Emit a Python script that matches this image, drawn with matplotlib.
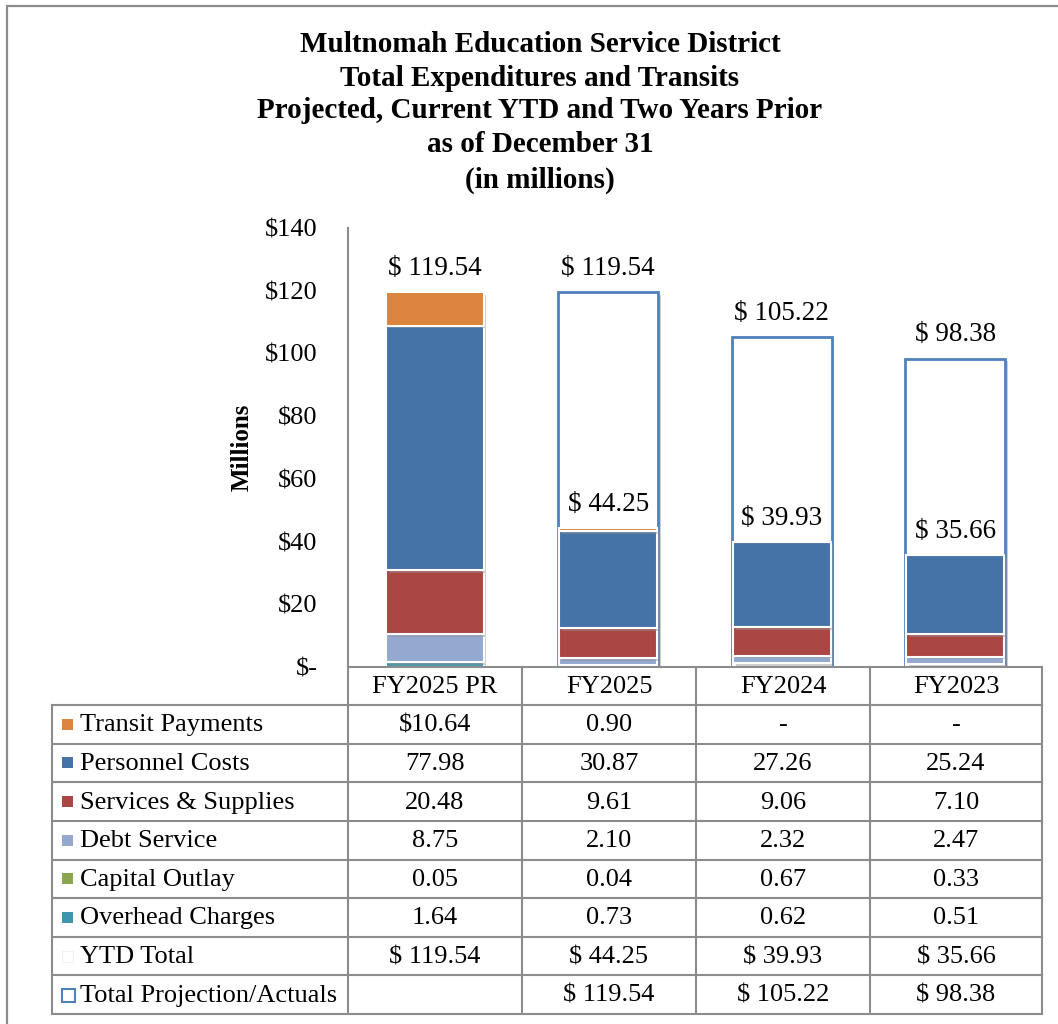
import matplotlib
matplotlib.use("Agg")
import matplotlib.pyplot as plt
from matplotlib.patches import Rectangle
from matplotlib.lines import Line2D
import matplotlib.patheffects as pe

# ---------------- data ----------------
categories = ["FY2025 PR", "FY2025", "FY2024", "FY2023"]
series_names = ["Transit Payments", "Personnel Costs", "Services & Supplies",
                "Debt Service", "Capital Outlay", "Overhead Charges"]
transit = [10.64, 0.90, 0.0, 0.0]
personnel = [77.98, 30.87, 27.26, 25.24]
services = [20.48, 9.61, 9.06, 7.10]
debt = [8.75, 2.10, 2.32, 2.47]
capital = [0.05, 0.04, 0.67, 0.33]
overhead = [1.64, 0.73, 0.62, 0.51]
ytd_total = [119.54, 44.25, 39.93, 35.66]
total_proj = [None, 119.54, 105.22, 98.38]
yticks = [0, 20, 40, 60, 80, 100, 120, 140]
ytick_labels = ["$-", "$20", "$40", "$60", "$80", "$100", "$120", "$140"]
title_lines = ["Multnomah Education Service District",
               "Total Expenditures and Transits",
               "Projected, Current YTD and Two Years Prior",
               "as of December 31",
               "(in millions)"]

colors = {
    "Transit Payments": "#DB843D",
    "Personnel Costs": "#4572A7",
    "Services & Supplies": "#AA4643",
    "Debt Service": "#93A9CF",
    "Capital Outlay": "#89A54E",
    "Overhead Charges": "#3D96AE",
}
outline_color = "#4F81BD"
grid_color = "#8C8C8C"

W, H = 1058, 1024
plt.rcParams["font.family"] = ["Liberation Serif", "DejaVu Serif"]
fig = plt.figure(figsize=(W / 100, H / 100), dpi=100)

def fx(x):
    return x / W

def fy(y):
    return 1 - y / H

# outer chart border
fig.add_artist(Rectangle((fx(7), fy(1030)), fx(1070) - fx(7), fy(6) - fy(1030),
                         transform=fig.transFigure, fill=False,
                         edgecolor="#8C8C8C", lw=1.6))

# axes
ax_l, ax_r, ax_t, ax_b = 348, 1042, 228, 667
ax = fig.add_axes([fx(ax_l), fy(ax_b), fx(ax_r) - fx(ax_l), fy(ax_t) - fy(ax_b)])
ax.set_xlim(-0.5, 3.5)
ax.set_ylim(0, 140)
for s in ["top", "right", "bottom"]:
    ax.spines[s].set_visible(False)
ax.spines["left"].set_color(grid_color)
ax.spines["left"].set_linewidth(1.5)
ax.set_xticks([])
ax.set_yticks(yticks)
ax.set_yticklabels(ytick_labels)
ax.tick_params(axis="y", length=0, pad=22, labelsize=19)
ax.set_ylabel("Millions", fontsize=18, fontweight="bold", labelpad=8)

x = list(range(len(categories)))
bw = 0.575
shadow = [pe.SimplePatchShadow(offset=(2, -2), shadow_rgbFace="#909090", alpha=0.45), pe.Normal()]

# total projection outline bars
for i, t in enumerate(total_proj):
    if t is None:
        continue
    ax.bar(x[i], t, width=bw, facecolor="white", edgecolor=outline_color,
           linewidth=2, zorder=2, path_effects=shadow)

stack = [("Overhead Charges", overhead), ("Capital Outlay", capital),
         ("Debt Service", debt), ("Services & Supplies", services),
         ("Personnel Costs", personnel), ("Transit Payments", transit)]
bottom = [0.0] * len(categories)
for name, vals in stack:
    ax.bar(x, vals, width=bw - 0.012, bottom=bottom, color=colors[name],
           edgecolor="white", linewidth=1.5, zorder=3,
           path_effects=shadow)
    bottom = [b + v for b, v in zip(bottom, vals)]

for i in range(len(categories)):
    ax.annotate(f"$ {ytd_total[i]:.2f}", (x[i], ytd_total[i]), xytext=(0, 17),
                textcoords="offset points", ha="center", va="center",
                fontsize=19.5, zorder=5)
    if total_proj[i] is not None:
        ax.annotate(f"$ {total_proj[i]:.2f}", (x[i], total_proj[i]), xytext=(0, 17),
                    textcoords="offset points", ha="center", va="center",
                    fontsize=19.5, zorder=5)

# title
title_y = [45, 78, 111, 145, 180]
for line, yy in zip(title_lines, title_y):
    fig.text(fx(540), fy(yy), line, ha="center", va="center",
             fontsize=21, fontweight="bold")

# ---------------- data table ----------------
col_edges = [348, 522, 696, 870, 1042]
leg_l = 52
head_t, head_b = 667, 705
row_h = (1014 - 705) / 8
row_edges = [head_b + k * row_h for k in range(9)]

def hline(x0, x1, y):
    fig.add_artist(Line2D([fx(x0), fx(x1)], [fy(y), fy(y)], transform=fig.transFigure,
                          color=grid_color, lw=1.5))

def vline(xx, y0, y1):
    fig.add_artist(Line2D([fx(xx), fx(xx)], [fy(y0), fy(y1)], transform=fig.transFigure,
                          color=grid_color, lw=1.5))

hline(col_edges[0], col_edges[-1], head_t)
for yy in row_edges:
    hline(leg_l, col_edges[-1], yy)
for xx in col_edges:
    vline(xx, head_t, row_edges[-1])
vline(leg_l, row_edges[0], row_edges[-1])

for j, c in enumerate(categories):
    cx = (col_edges[j] + col_edges[j + 1]) / 2
    fig.text(fx(cx), fy((head_t + head_b) / 2 + 1), c, ha="center", va="center", fontsize=19)

def fmt_plain(v):
    return "-" if v == 0 else f"{v:.2f}"

row_names = series_names + ["YTD Total", "Total Projection/Actuals"]
row_vals = [
    ["$" + f"{transit[0]:.2f}"] + [fmt_plain(v) for v in transit[1:]],
    [fmt_plain(v) for v in personnel],
    [fmt_plain(v) for v in services],
    [fmt_plain(v) for v in debt],
    [fmt_plain(v) for v in capital],
    [fmt_plain(v) for v in overhead],
    [f"$ {v:.2f}" for v in ytd_total],
    ["" if v is None else f"$ {v:.2f}" for v in total_proj],
]

for r, name in enumerate(row_names):
    cy = (row_edges[r] + row_edges[r + 1]) / 2
    # legend key
    sq = 11
    if name in colors:
        fig.add_artist(Rectangle((fx(62), fy(cy + sq / 2)), fx(sq), sq / H,
                                 transform=fig.transFigure, facecolor=colors[name],
                                 edgecolor="none"))
    elif name == "YTD Total":
        fig.add_artist(Rectangle((fx(62), fy(cy + sq / 2)), fx(sq), sq / H,
                                 transform=fig.transFigure, facecolor="white",
                                 edgecolor="#F2F2F2", lw=0.8))
    else:
        fig.add_artist(Rectangle((fx(62), fy(cy + 7)), fx(13), 13 / H,
                                 transform=fig.transFigure, facecolor="white",
                                 edgecolor=outline_color, lw=1.5))
    fig.text(fx(80), fy(cy + 1), name, ha="left", va="center", fontsize=19)
    for j, s in enumerate(row_vals[r]):
        cx = (col_edges[j] + col_edges[j + 1]) / 2
        fig.text(fx(cx), fy(cy + 1), s, ha="center", va="center", fontsize=19)

fig.savefig("out.png", dpi=100)
